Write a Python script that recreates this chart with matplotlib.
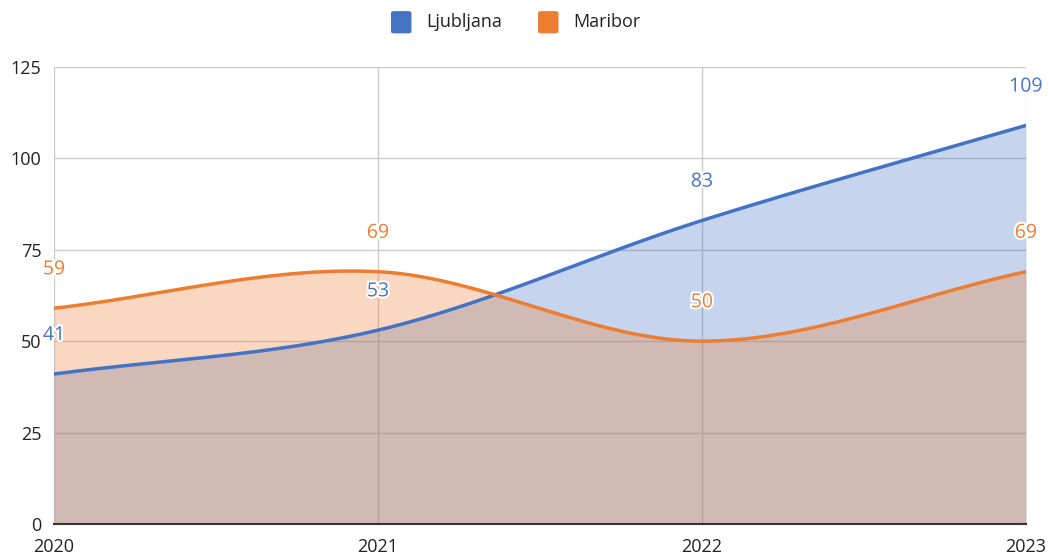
import numpy as np
import matplotlib.pyplot as plt
import matplotlib.patheffects as pe
from matplotlib.patches import FancyBboxPatch

plt.rcParams['font.family'] = ['Open Sans', 'DejaVu Sans']

years = [2020, 2021, 2022, 2023]
ljubljana = [41, 53, 83, 109]
maribor = [59, 69, 50, 69]
series_names = ['Ljubljana', 'Maribor']
colors = ['#4472c4', '#ed7d31']


def smooth(x, y, n=60):
    # cubic hermite with central-difference tangents
    x = np.asarray(x, float)
    y = np.asarray(y, float)
    m = np.zeros_like(y)
    m[0] = y[1] - y[0]
    m[-1] = y[-1] - y[-2]
    m[1:-1] = (y[2:] - y[:-2]) / 2
    xs, ys = [], []
    for i in range(len(x) - 1):
        t = np.linspace(0, 1, n)
        h00 = 2 * t**3 - 3 * t**2 + 1
        h10 = t**3 - 2 * t**2 + t
        h01 = -2 * t**3 + 3 * t**2
        h11 = t**3 - t**2
        xs.append(x[i] + t * (x[i + 1] - x[i]))
        ys.append(h00 * y[i] + h10 * m[i] + h01 * y[i + 1] + h11 * m[i + 1])
    return np.concatenate(xs), np.concatenate(ys)


fig = plt.figure(figsize=(10.49, 5.56), dpi=100)
ax = fig.add_axes([0.0515, 0.0576, 0.9265, 0.822])

curves = [smooth(years, ljubljana), smooth(years, maribor)]
for (cx, cy), c in zip(curves, colors):
    ax.fill_between(cx, 0, cy, color=c, alpha=0.3, lw=0, zorder=2)
for (cx, cy), c in zip(curves, colors):
    ax.plot(cx, cy, color=c, lw=2.5, zorder=3, solid_capstyle='round')

for vals, c in zip([ljubljana, maribor], colors):
    for xv, v in zip(years, vals):
        ax.annotate(str(v), (xv, v), xytext=(0, 28), textcoords='offset points',
                    ha='center', va='center', fontsize=14, color=c, zorder=5,
                    path_effects=[pe.withStroke(linewidth=3, foreground='white')])

ax.set_xlim(2020, 2023)
ax.set_ylim(0, 125)
ax.set_xticks(years)
ax.set_xticklabels([str(y) for y in years])
ax.set_yticks([0, 25, 50, 75, 100, 125])
ax.tick_params(axis='both', length=0, labelsize=13, colors='#222222')
ax.tick_params(axis='x', pad=10)
ax.tick_params(axis='y', pad=9)
ax.grid(True, color='#cccccc', lw=1, zorder=1)
ax.set_axisbelow(True)
for s in ['top', 'right', 'left']:
    ax.spines[s].set_visible(False)
ax.spines['bottom'].set_color('#333333')
ax.spines['bottom'].set_linewidth(1.5)
ax.spines['bottom'].set_zorder(4)

# legend
leg_y = 0.960
for name, c, lx in zip(series_names, colors, [0.3727, 0.5129]):
    fig.patches.append(FancyBboxPatch((lx, leg_y - 0.02), 0.0195, 0.04,
                                      boxstyle='round,pad=0,rounding_size=0.003',
                                      transform=fig.transFigure, color=c, lw=0))
    fig.text(lx + 0.0335, leg_y, name, fontsize=13, va='center', ha='left', color='#222222')

fig.savefig('out.png', dpi=100)
